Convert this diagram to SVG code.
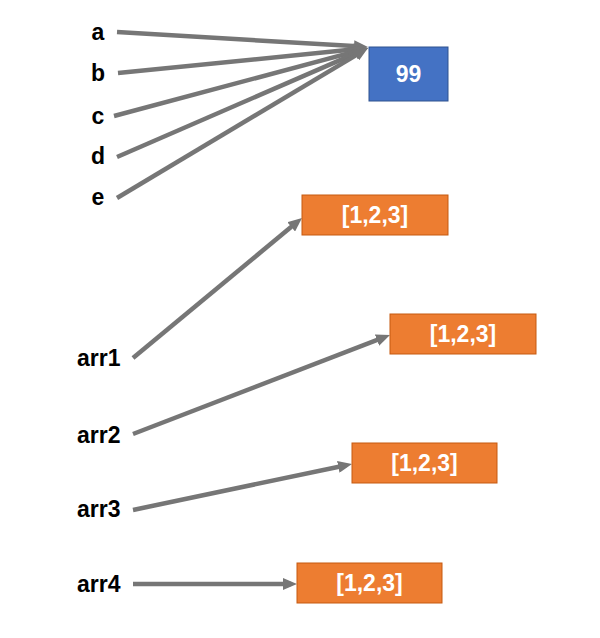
<svg xmlns="http://www.w3.org/2000/svg" width="600" height="638" viewBox="0 0 600 638">
<style>
.lbl{font-family:"Liberation Sans",Arial,sans-serif;font-weight:bold;font-size:23px;fill:#000}
.val{font-family:"Liberation Sans",Arial,sans-serif;font-weight:bold;font-size:23px;fill:#fff;text-anchor:middle}
.blue{fill:#4472C4;stroke:#2F528F;stroke-width:1}
.orange{fill:#ED7D31;stroke:#C55A11;stroke-width:1}
.conn line{stroke:#767676;stroke-width:4.5;fill:none;marker-end:url(#ah)}
</style>
<defs>
<marker id="ah" markerUnits="userSpaceOnUse" markerWidth="14" markerHeight="12" refX="8" refY="6" orient="auto">
<path d="M0,0 L14,6 L0,12 z" fill="#767676"/>
</marker>
</defs>
<rect width="600" height="638" fill="#fff"/>
<g id="conns" class="conn">
<line x1="117" y1="32" x2="362" y2="46.6"/>
<line x1="118" y1="73" x2="362" y2="48.6"/>
<line x1="114" y1="116" x2="362.2" y2="49.6"/>
<line x1="117" y1="157" x2="362.5" y2="50.4"/>
<line x1="117" y1="198" x2="362.9" y2="51.1"/>
<line x1="133" y1="358" x2="297.4" y2="221.8"/>
<line x1="133" y1="434" x2="384.4" y2="337.2"/>
<line x1="133" y1="510" x2="346.1" y2="465.2"/>
<line x1="133" y1="584" x2="291" y2="584"/>
</g>
<g id="a"><text class="lbl" x="98" y="40" text-anchor="middle">a</text></g>
<g id="b"><text class="lbl" x="98" y="81" text-anchor="middle">b</text></g>
<g id="c"><text class="lbl" x="98" y="124" text-anchor="middle">c</text></g>
<g id="d"><text class="lbl" x="98" y="164" text-anchor="middle">d</text></g>
<g id="e"><text class="lbl" x="98" y="205" text-anchor="middle">e</text></g>
<g id="n99"><rect class="blue" x="369" y="47" width="79" height="54"/><text class="val" x="408.5" y="82">99</text></g>
<g id="arr1"><text class="lbl" x="77" y="366">arr1</text></g>
<g id="arr2"><text class="lbl" x="77" y="443">arr2</text></g>
<g id="arr3"><text class="lbl" x="77" y="517">arr3</text></g>
<g id="arr4"><text class="lbl" x="77" y="592">arr4</text></g>
<g id="list1"><rect class="orange" x="302" y="195" width="146" height="40"/><text class="val" x="375" y="223">[1,2,3]</text></g>
<g id="list2"><rect class="orange" x="390" y="314" width="146" height="40"/><text class="val" x="463" y="342">[1,2,3]</text></g>
<g id="list3"><rect class="orange" x="352" y="443" width="145" height="40"/><text class="val" x="424.5" y="471">[1,2,3]</text></g>
<g id="list4"><rect class="orange" x="297" y="563" width="145" height="40"/><text class="val" x="369.5" y="591">[1,2,3]</text></g>
</svg>
